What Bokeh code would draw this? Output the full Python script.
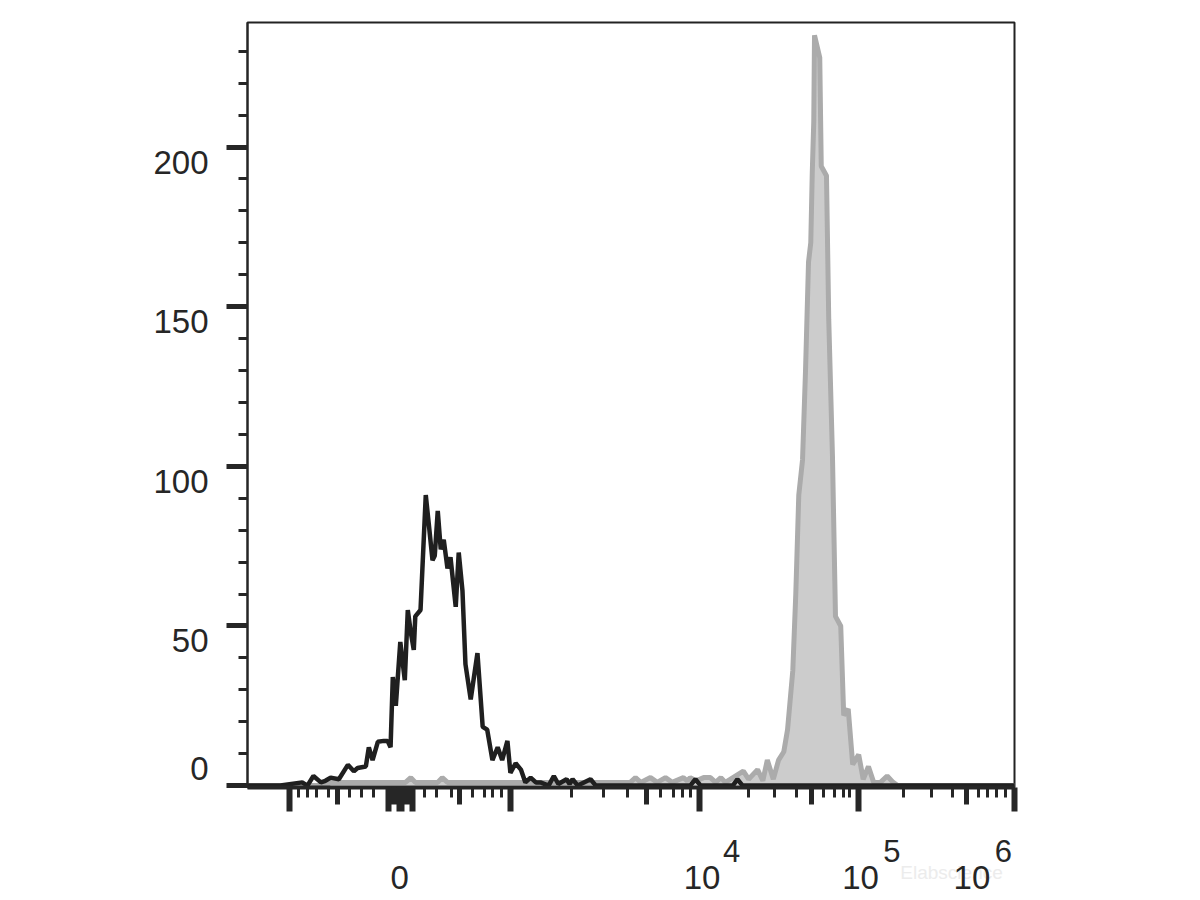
from bokeh.plotting import figure
from bokeh.models import Range1d, LinearAxis, FixedTicker
from bokeh.embed import file_html
from bokeh.resources import INLINE

# ---- data (display channel 0..1024 on a biexponential axis, event counts) ----
black_ch = [0, 44, 73, 80, 88, 98, 104, 111, 122, 134, 142, 147, 158, 162, 167, 174, 182, 187, 191, 194,
            198, 204, 210, 214, 218, 222, 224, 231, 238, 242, 247, 250, 254, 258, 262, 267, 271, 278, 282, 287,
            291, 298, 307, 314, 320, 327, 334, 340, 347, 351, 358, 365, 371, 378, 385, 391, 402, 409, 415, 426,
            430, 434, 441, 458, 465, 591, 598, 605, 648, 654, 661, 1024]
black_cnt = [0, 0, 1, 0, 3, 1, 1.5, 2.5, 2, 6.5, 4.5, 5.5, 6, 12, 8, 13.7, 14, 14, 12, 34,
             25, 45, 33, 55, 48, 42.5, 53, 55, 91, 82, 70.6, 72, 86, 74, 77, 68, 71.5, 56, 73, 61,
             38, 27, 41.5, 18.4, 17.5, 8, 12, 8, 14, 4, 7, 5, 1, 2.5, 1, 1, 0, 3, 0.5, 2,
             0.5, 2, 0, 2, 0, 0, 2, 0, 0, 2, 0, 0]

gray_ch = [0, 106, 110, 211, 218, 224, 254, 260, 267, 511, 518, 525, 538, 547, 558, 567, 582, 587, 591, 599,
           609, 618, 625, 632, 638, 662, 669, 681, 688, 694, 702, 709, 716, 721, 728, 732, 736, 741, 745, 749,
           752, 754, 756, 757, 764, 766, 773, 776, 781, 785, 792, 796, 802, 808, 816, 822, 829, 836, 845, 854,
           862, 868, 1024]
gray_cnt = [0, 0, 1, 1, 2.5, 1, 1, 2.5, 1, 1, 2.5, 1, 2.5, 1, 2.5, 1, 2.5, 1.5, 2.5, 1.5,
            2.5, 2.5, 1, 2.5, 1, 4.5, 2, 5, 1.5, 8, 2, 8, 10.6, 17.5, 36, 60, 91, 102, 130, 164,
            170, 192, 208, 235, 228, 194, 191, 146, 103, 53, 50, 22, 24, 6.6, 9.7, 2, 6, 1, 1, 3,
            1, 0, 0]

# ---- axis ticks and tick labels ----
y_major = [0, 50, 100, 150, 200]
y_minor = [10, 20, 30, 40, 60, 70, 80, 90, 110, 120, 130, 140, 160, 170, 180, 190, 210, 220, 230]
y_labels = ["0", "50", "100", "150", "200"]

x_long = [56.1, 187.6, 202.9, 205.6, 220.3, 351.1, 603.5, 815.7, 1024]
x_medium = [120.2, 191.5, 194.2, 197.6, 210.0, 212.3, 215.0, 283.0, 532.7, 752.9, 959.9]
x_short = [68.1, 80.1, 92.1, 108.1, 136.2, 152.2, 168.2, 236.3, 252.3, 272.4, 300.4, 316.4, 327.1, 339.1,
           432.6, 475.3, 507.3, 551.4, 568.7, 580.8, 591.4, 668.9, 703.6, 733.0, 769.0, 783.7, 795.7,
           803.7, 875.8, 913.2, 941.2, 975.9, 987.9, 1000.0, 1012.0]

x_zero = 203.0
x_base_labels = ["10", "10", "10"]
x_base_pos = [606.8, 818.4, 967.2]
x_exp_labels = ["4", "5", "6"]
x_exp_pos = [646.2, 860.4, 1009.3]
watermark = "Elabscience"
watermark_pos = 940.0

FONT = "Liberation Sans"
INK = "#262626"
Y0 = -0.6
Y1 = 239
PX_PER_COUNT = 765 / (Y1 - Y0)

p = figure(frame_width=767, frame_height=765,
           x_range=Range1d(0, 1024), y_range=Range1d(Y0, Y1),
           x_axis_location=None, y_axis_location=None,
           output_backend="svg", toolbar_location=None,
           min_border_left=247, min_border_right=22, min_border_top=22, min_border_bottom=110)
p.grid.visible = False
p.outline_line_color = "#222222"
p.outline_line_width = 2
p.background_fill_color = "white"
p.border_fill_color = "white"


def tick_axis(positions, length, width, line_width=None):
    """An axis that only draws tick marks outward (via a negative tick_in), taking no layout space."""
    return LinearAxis(ticker=FixedTicker(ticks=[], minor_ticks=positions),
                      major_tick_in=0, major_tick_out=0, major_tick_line_color=None,
                      minor_tick_in=-length, minor_tick_out=0, minor_tick_line_width=width,
                      minor_tick_line_color=INK, major_label_standoff=0,
                      axis_line_width=line_width or 1,
                      axis_line_color=INK if line_width else None)


def label_axis(ticks, labels, standoff, size, color=INK):
    """An axis that only draws tick labels."""
    ticks = [round(t, 2) for t in ticks]
    return LinearAxis(ticker=FixedTicker(ticks=ticks, minor_ticks=[]),
                      major_label_overrides={t: s for t, s in zip(ticks, labels)},
                      major_tick_in=0, major_tick_out=0, major_tick_line_color=None,
                      minor_tick_in=0, minor_tick_out=0, minor_tick_line_color=None,
                      axis_line_color=None, major_label_standoff=standoff,
                      major_label_text_font=FONT, major_label_text_font_size=size,
                      major_label_text_color=color)


# y axis: major marks, minor marks, labels (nudged below ticks, "0" above its tick)
p.add_layout(tick_axis(y_major, 21, 5, line_width=2), "left")
p.add_layout(tick_axis(y_minor, 9, 3), "left")
y_label_pos = [v + (17 if v == 0 else -15) / PX_PER_COUNT for v in y_major]
p.add_layout(label_axis(y_label_pos, y_labels, 39, "33px"), "left")

# x axis: long, medium, short marks
p.add_layout(tick_axis(x_long, 24, 6, line_width=4), "below")
p.add_layout(tick_axis(x_medium, 17, 5), "below")
p.add_layout(tick_axis(x_short, 10, 3), "below")
# exponents, watermark, then the "0" / "10" labels
p.add_layout(label_axis(x_exp_pos, x_exp_labels, 52, "31px"), "below")
p.add_layout(label_axis([watermark_pos], [watermark], -3, "19px", "#ececec"), "below")
p.add_layout(label_axis([x_zero] + x_base_pos, ["0"] + x_base_labels, -20, "33px"), "below")

# histograms
p.varea(x=gray_ch, y1=0, y2=gray_cnt, fill_color="#cccccc")
p.line(gray_ch, gray_cnt, line_color="#ababab", line_width=5)
p.line(black_ch, black_cnt, line_color="#1f1f1f", line_width=4.5)

open("out.html", "w").write(file_html(p, INLINE))
